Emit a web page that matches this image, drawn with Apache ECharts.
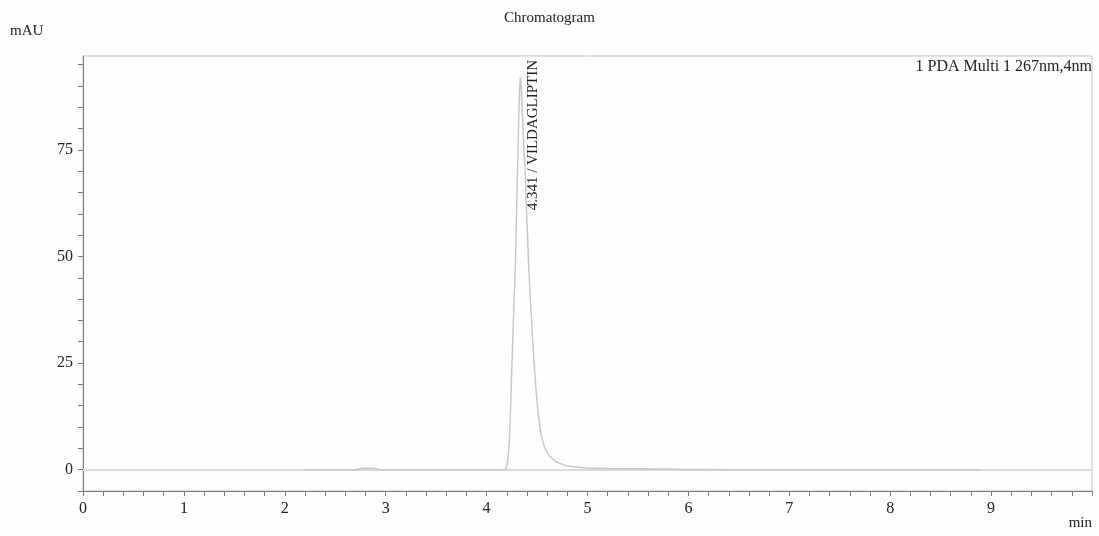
<!DOCTYPE html>
<html>
<head>
<meta charset="utf-8">
<script src="https://cdn.jsdelivr.net/npm/echarts@6/dist/echarts.min.js"></script>
<style>
html,body{margin:0;padding:0;background:#fefefe;}
#chart{width:1099px;height:536px;}
</style>
</head>
<body>
<div id="chart"></div>
<script>
// ---- data ----
const chartTitle = 'Chromatogram';
const yUnit = 'mAU';
const xUnit = 'min';
const detectorLabel = '1 PDA Multi 1 267nm,4nm';
const peakTime = 4.341;
const peakName = 'VILDAGLIPTIN';
const peakHeight = 92;

const retentionTime = [2.2, 2.5, 2.7, 2.76, 2.82, 2.88, 2.94, 3.0, 3.5, 3.8, 4.0, 4.1, 4.16, 4.19, 4.198, 4.205, 4.211, 4.218, 4.225, 4.232, 4.240, 4.250, 4.260, 4.272, 4.284, 4.295, 4.304, 4.317, 4.327, 4.334, 4.340, 4.348, 4.356, 4.368, 4.383, 4.400, 4.419, 4.435, 4.451, 4.475, 4.498, 4.520, 4.542, 4.574, 4.62, 4.69, 4.79, 4.9, 5.0, 5.2, 5.5, 5.9, 6.4, 7.0, 8.0, 8.9];
const absorbance    = [0.0, 0.0, 0.05, 0.25, 0.35, 0.25, 0.05, 0.0, 0.0, 0.0, 0.0, 0.0, 0.05, 0.1, 0.7, 1.5, 2.5, 4.5, 7.0, 11.0, 16.4, 24.0, 31.0, 39.0, 47.0, 58.0, 68.0, 81.0, 89.0, 92.0, 91.2, 87.5, 82.5, 76.5, 69.5, 58.0, 47.0, 39.5, 32.8, 23.5, 16.4, 11.5, 8.0, 5.2, 3.3, 1.8, 0.9, 0.55, 0.4, 0.3, 0.2, 0.1, 0.0, 0.0, 0.0, 0.0];

const xTickLabels = [0, 1, 2, 3, 4, 5, 6, 7, 8, 9];
const yTickLabels = [0, 25, 50, 75];

// minor tick positions
const xMinorTicks = [];
for (let i = 0; i <= 50; i++) xMinorTicks.push(Math.round(i * 0.2 * 10) / 10);
const yMinorTicks = [];
for (let v = -5; v <= 95; v += 5) yMinorTicks.push(v);

const FONT = '"Liberation Serif", "Times New Roman", serif';
const traceData = retentionTime.map((t, i) => [t, absorbance[i]]);

const chart = echarts.init(document.getElementById('chart'), null, {renderer: 'canvas'});

const option = {
  backgroundColor: '#fefefe',
  animation: false,
  title: {
    text: chartTitle,
    left: 'center',
    top: 6,
    textStyle: {fontFamily: FONT, fontSize: 15, fontWeight: 'normal', color: '#222'}
  },
  grid: {
    left: 83, right: 7, top: 56, bottom: 45,
    show: true, borderColor: '#c4c4c4', borderWidth: 1, backgroundColor: 'transparent'
  },
  xAxis: {
    type: 'value', min: 0, max: 10, interval: 1,
    axisLine: {show: true, onZero: false, lineStyle: {color: '#7a7a7a', width: 1}},
    axisTick: {show: true, customValues: xMinorTicks, length: 5, lineStyle: {color: '#7a7a7a'}},
    axisLabel: {customValues: xTickLabels, fontFamily: FONT, fontSize: 16, color: '#222', margin: 10},
    splitLine: {show: false}
  },
  yAxis: {
    type: 'value', min: -5, max: 97,
    axisLine: {show: true, onZero: false, lineStyle: {color: '#7a7a7a', width: 1}},
    axisTick: {show: true, customValues: yMinorTicks, length: 5, lineStyle: {color: '#7a7a7a'}},
    axisLabel: {customValues: yTickLabels, fontFamily: FONT, fontSize: 16, color: '#222', margin: 10},
    splitLine: {show: false}
  },
  series: [{
    type: 'line',
    data: traceData,
    showSymbol: false,
    symbol: 'none',
    lineStyle: {color: '#c8c8c8', width: 1.5},
    z: 3,
    markLine: {
      silent: true,
      symbol: 'none',
      label: {show: false},
      lineStyle: {color: '#dadada', width: 2, type: 'solid'},
      data: [{yAxis: 0}],
      z: 2
    }
  }]
};

chart.setOption(option);

// peak annotation, anchored to the peak via the axes
const apex = chart.convertToPixel({gridIndex: 0}, [peakTime, peakHeight]);
chart.setOption({
  graphic: [
    {type: 'text', left: 10, top: 24, style: {text: yUnit, font: '15px ' + FONT, fill: '#222'}},
    {type: 'text', right: 7, top: 516, style: {text: xUnit, font: '15px ' + FONT, fill: '#222'}},
    {type: 'text', right: 7, top: 59, style: {text: detectorLabel, font: '16px ' + FONT, fill: '#222'}},
    {
      type: 'text',
      x: apex[0] + 12,
      y: apex[1] + 133,
      rotation: Math.PI / 2,
      style: {
        text: peakTime.toFixed(3) + ' / ' + peakName,
        font: '15px ' + FONT,
        fill: '#222',
        align: 'left',
        verticalAlign: 'middle'
      }
    }
  ]
});
</script>
</body>
</html>
